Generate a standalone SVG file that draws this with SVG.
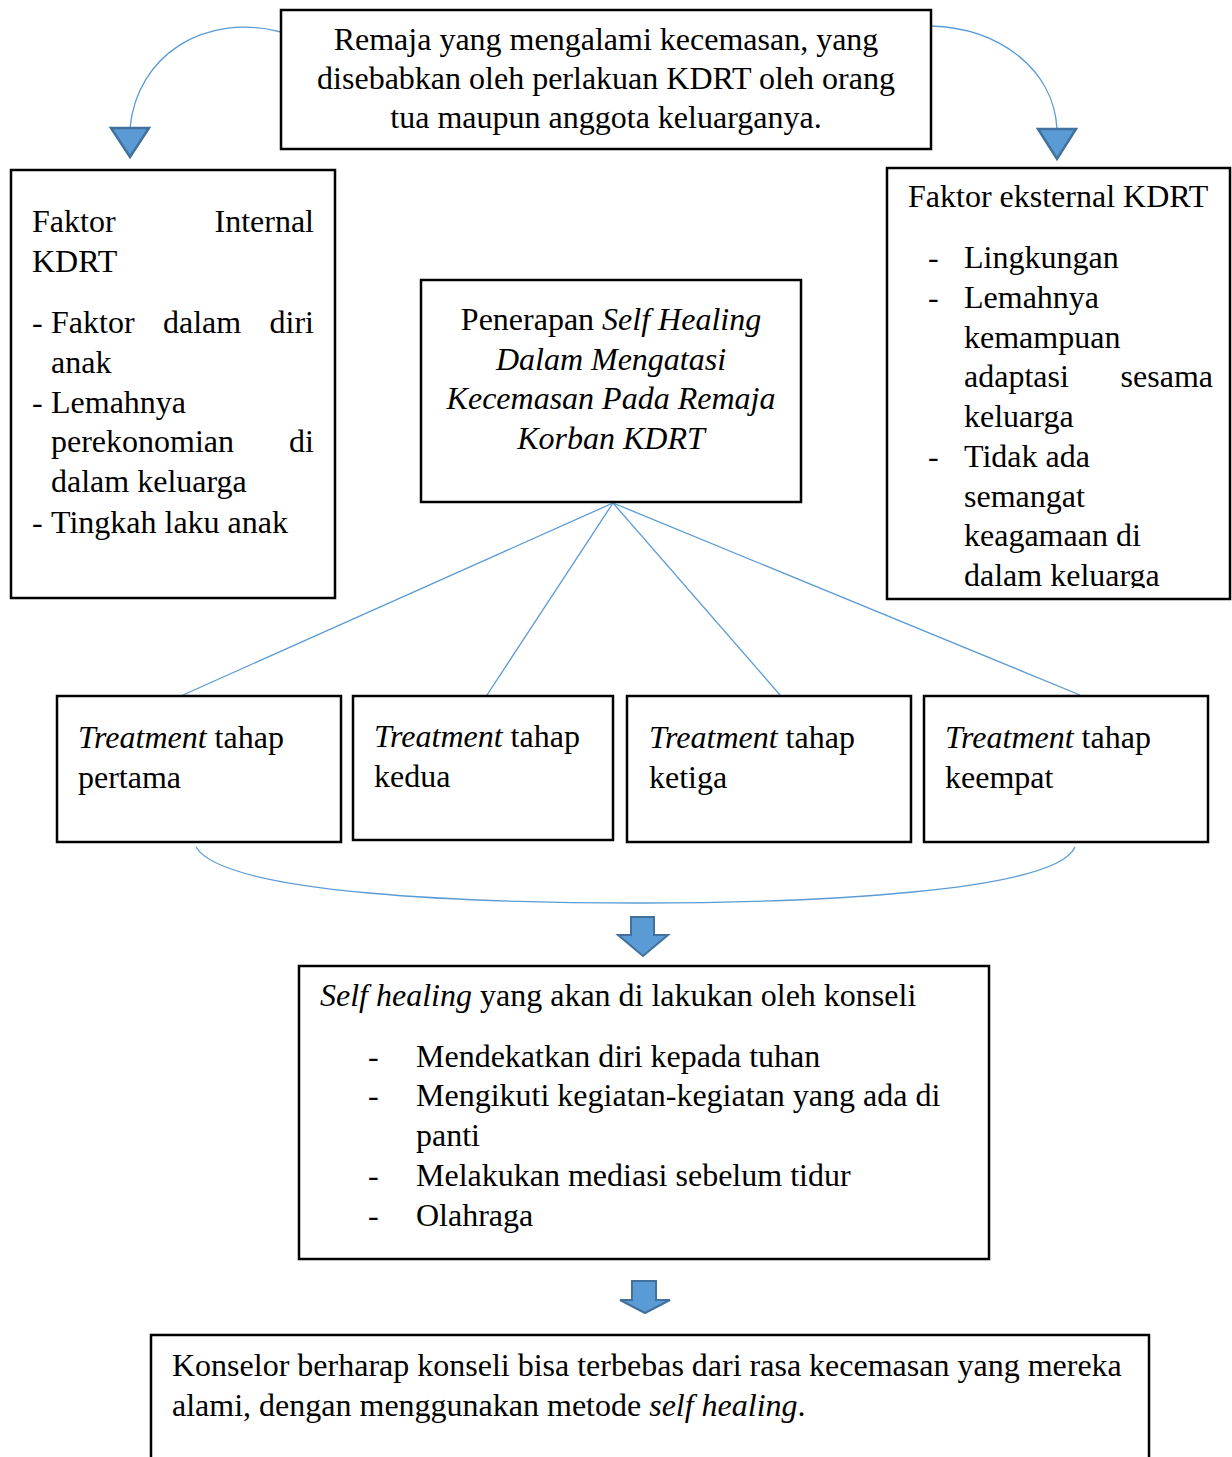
<svg xmlns="http://www.w3.org/2000/svg" width="1232" height="1457" viewBox="0 0 1232 1457">
<style>
text{font-family:"Liberation Serif","Times New Roman",serif;font-size:32px;fill:#000}
.box{fill:#fff;stroke:#000;stroke-width:2.5}
.con{fill:none;stroke:#5b9bd5;stroke-width:1.3}
.tri{fill:#5b9bd5;stroke:#41719c;stroke-width:2.5;stroke-linejoin:miter}
.blk{fill:#5b9bd5;stroke:#41719c;stroke-width:2}
.i{font-style:italic}
.c{text-anchor:middle}
.e{text-anchor:end}
</style>
<defs>
<clipPath id="clipR"><rect x="887" y="168" width="345" height="420"/></clipPath>
</defs>
<g id="connectors">
<path class="con" d="M281,32 C205,12 137,55 130,128"/>
<path class="con" d="M931,26 C1000,28 1054,70 1057,129"/>
<polygon class="tri" points="111,128 149,128 130,157"/>
<polygon class="tri" points="1038,129 1076,129 1057,159"/>
<line class="con" x1="613" y1="503" x2="183" y2="695"/>
<line class="con" x1="613" y1="503" x2="487" y2="695"/>
<line class="con" x1="613" y1="503" x2="780" y2="695"/>
<line class="con" x1="613" y1="503" x2="1080" y2="695"/>
<path class="con" d="M196,847 C225,895 480,903 640,903 C800,903 1055,893 1075,847"/>
<polygon class="blk" points="631,917 654,917 654,935 668,935 643,956 618,935 631,935"/>
<polygon class="blk" points="632,1281 656,1281 656,1300 670,1300 645,1313 620,1300 632,1300"/>
</g>
<g id="top">
<rect class="box" x="281" y="10" width="650" height="139"/>
<text class="c" x="606" y="50">Remaja yang mengalami kecemasan, yang</text>
<text class="c" x="606" y="89">disebabkan oleh perlakuan KDRT oleh orang</text>
<text class="c" x="606" y="128">tua maupun anggota keluarganya.</text>
</g>
<g id="internal">
<rect class="box" x="11" y="170" width="324" height="428"/>
<text x="32" y="232">Faktor</text><text class="e" x="314" y="232">Internal</text>
<text x="32" y="272">KDRT</text>
<text x="32" y="333">-</text><text x="51" y="333">Faktor</text><text x="163" y="333">dalam</text><text class="e" x="314" y="333">diri</text>
<text x="51" y="373">anak</text>
<text x="32" y="413">-</text><text x="51" y="413">Lemahnya</text>
<text x="51" y="452">perekonomian</text><text class="e" x="314" y="452">di</text>
<text x="51" y="492">dalam keluarga</text>
<text x="32" y="533">-</text><text x="51" y="533">Tingkah laku anak</text>
</g>
<g id="external">
<rect class="box" x="887" y="168" width="343" height="431"/>
<g clip-path="url(#clipR)">
<text x="908" y="207">Faktor eksternal KDRT</text>
<text x="928" y="268">-</text><text x="964" y="268">Lingkungan</text>
<text x="928" y="308">-</text><text x="964" y="308">Lemahnya</text>
<text x="964" y="348">kemampuan</text>
<text x="964" y="387">adaptasi</text><text class="e" x="1213" y="387">sesama</text>
<text x="964" y="427">keluarga</text>
<text x="928" y="467">-</text><text x="964" y="467">Tidak ada</text>
<text x="964" y="507">semangat</text>
<text x="964" y="546">keagamaan di</text>
<text x="964" y="586">dalam keluarga</text>
</g>
</g>
<g id="center">
<rect class="box" x="421" y="280" width="380" height="222"/>
<text class="c" x="611" y="330">Penerapan <tspan class="i">Self Healing</tspan></text>
<text class="c i" x="611" y="370">Dalam Mengatasi</text>
<text class="c i" x="611" y="409">Kecemasan Pada Remaja</text>
<text class="c i" x="611" y="449">Korban KDRT</text>
</g>
<g id="t1">
<rect class="box" x="57" y="696" width="284" height="146"/>
<text x="78" y="748"><tspan class="i">Treatment</tspan> tahap</text>
<text x="78" y="788">pertama</text>
</g>
<g id="t2">
<rect class="box" x="353" y="696" width="260" height="144"/>
<text x="374" y="747"><tspan class="i">Treatment</tspan> tahap</text>
<text x="374" y="787">kedua</text>
</g>
<g id="t3">
<rect class="box" x="627" y="696" width="284" height="146"/>
<text x="649" y="748"><tspan class="i">Treatment</tspan> tahap</text>
<text x="649" y="788">ketiga</text>
</g>
<g id="t4">
<rect class="box" x="924" y="696" width="284" height="146"/>
<text x="945" y="748"><tspan class="i">Treatment</tspan> tahap</text>
<text x="945" y="788">keempat</text>
</g>
<g id="selfhealing">
<rect class="box" x="299" y="966" width="690" height="293"/>
<text x="320" y="1006"><tspan class="i">Self healing</tspan> yang akan di lakukan oleh konseli</text>
<text x="368" y="1067">-</text><text x="416" y="1067">Mendekatkan diri kepada tuhan</text>
<text x="368" y="1106">-</text><text x="416" y="1106">Mengikuti kegiatan-kegiatan yang ada di</text>
<text x="416" y="1146">panti</text>
<text x="368" y="1186">-</text><text x="416" y="1186">Melakukan mediasi sebelum tidur</text>
<text x="368" y="1226">-</text><text x="416" y="1226">Olahraga</text>
</g>
<g id="final">
<path class="box" d="M151,1460 V1335 H1149 V1460"/>
<text x="172" y="1376">Konselor berharap konseli bisa terbebas dari rasa kecemasan yang mereka</text>
<text x="172" y="1416">alami, dengan menggunakan metode <tspan class="i">self healing</tspan>.</text>
</g>
</svg>
